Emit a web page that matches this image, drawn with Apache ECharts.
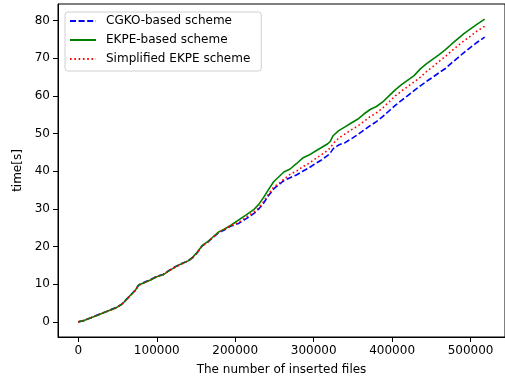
<!DOCTYPE html>
<html>
<head>
<meta charset="utf-8">
<script src="https://cdn.jsdelivr.net/npm/echarts@6/dist/echarts.min.js"></script>
<style>
html,body{margin:0;padding:0;background:#fff;}
#chart{width:505px;height:381px;}
</style>
</head>
<body>
<div id="chart"></div>
<script>
const fileCounts = [0,8000,16000,24000,32000,40000,48000,55000,60000,66000,
  72000,77000,84000,92000,100000,108000,116000,124000,132000,140000,
  146000,152000,158000,165000,172000,179000,186000,194000,204000,214000,
  224000,230000,236000,242000,249000,256000,262000,270000,278000,286000,
  294000,302000,310000,318000,321000,325000,332000,340000,348000,356000,
  364000,372000,380000,388000,396000,404000,412000,420000,428000,436000,
  444000,452000,460000,468000,476000,484000,492000,500000,508000,518000];

const cgkoTimes = [0,0.4,1.1,1.8,2.4,3.1,3.8,4.6,5.7,7.0,
  8.3,9.8,10.5,11.2,12.1,12.6,13.7,14.7,15.5,16.2,
  17.1,18.5,20.2,21.2,22.5,23.7,24.4,25.4,26.1,27.4,
  28.8,30.0,31.5,33.4,35.3,36.5,37.5,38.3,39.0,40.0,
  40.9,42.0,43.0,44.2,44.8,46.0,47.0,47.6,48.6,49.7,
  50.9,52.1,53.2,54.5,56.0,57.5,58.8,60.1,61.4,62.7,
  63.9,65.0,66.2,67.3,68.8,70.2,71.6,72.9,74.2,75.6];

const ekpeTimes = [0,0.4,1.1,1.7,2.4,3.1,3.7,4.6,5.6,7.0,
  8.2,9.8,10.4,11.1,12.0,12.5,13.6,14.6,15.5,16.2,
  17.2,18.6,20.3,21.3,22.6,23.9,24.6,25.6,27.0,28.4,
  29.9,31.2,33.0,35.0,37.2,38.6,39.8,40.6,42.0,43.5,
  44.3,45.3,46.3,47.3,47.9,49.5,50.8,51.8,52.8,53.8,
  55.2,56.4,57.2,58.4,60.0,61.6,63.0,64.2,65.4,67.2,
  68.6,69.8,71.0,72.3,73.8,75.2,76.6,77.8,79.0,80.4];

const simplifiedTimes = [0,0.4,1.1,1.7,2.4,3.0,3.7,4.5,5.6,6.9,
  8.2,9.7,10.4,11.1,12.0,12.5,13.6,14.6,15.4,16.2,
  17.1,18.5,20.2,21.2,22.5,23.8,24.5,25.5,26.4,27.8,
  29.2,30.3,31.9,33.8,35.8,36.8,37.9,39.2,40.0,41.2,
  42.1,43.3,44.4,45.6,46.2,47.4,48.8,49.9,51.0,52.0,
  53.2,54.5,55.5,56.8,58.4,60.0,61.3,62.5,63.7,65.0,
  66.5,67.8,69.2,70.5,72.0,73.4,74.7,75.9,77.2,78.5];

const xTicks = [0,100000,200000,300000,400000,500000];
const yTicks = [0,10,20,30,40,50,60,70,80];
const seriesNames = ['CGKO-based scheme','EKPE-based scheme','Simplified EKPE scheme'];

function pairs(vals){ return fileCounts.map((x,i)=>[x, vals[i]]); }

const font = 'DejaVu Sans';
const chart = echarts.init(document.getElementById('chart'), null, {renderer:'canvas'});
chart.setOption({
  animation:false,
  backgroundColor:'#fff',
  grid:{left:58, top:4, width:450, height:334, containLabel:false, show:true, borderColor:'#000', borderWidth:1, backgroundColor:'transparent'},
  legend:{
    orient:'vertical', left:65, top:12,
    padding:[3,11,6,4], itemGap:7, itemWidth:26, itemHeight:14,
    backgroundColor:'#fff', borderColor:'#d0d0d0', borderWidth:1, borderRadius:3,
    itemStyle:{color:'rgba(0,0,0,0)', borderWidth:0, opacity:0},
    formatter:function(name){ return '{t|' + name + '}'; },
    textStyle:{fontFamily:font, fontSize:12, color:'#000',
      rich:{t:{fontFamily:font, fontSize:12, color:'#000', padding:[0,0,0,5]}}},
    data:seriesNames
  },
  xAxis:{
    type:'value', min:-25900, max:543900,
    name:'The number of inserted files', nameLocation:'middle', nameGap:27,
    nameTextStyle:{fontFamily:font, fontSize:12, color:'#000'},
    axisLine:{show:true, onZero:false, lineStyle:{color:'#000', width:1}},
    axisTick:{show:true, length:5, inside:false, customValues:xTicks, lineStyle:{color:'#000'}},
    axisLabel:{customValues:xTicks, margin:8, fontFamily:font, fontSize:12, color:'#000',
      formatter:function(v){ return String(v); }},
    splitLine:{show:false}
  },
  yAxis:{
    type:'value', min:-4.02, max:84.42,
    name:'time[s]', nameLocation:'middle', nameGap:28, nameRotate:90,
    nameTextStyle:{fontFamily:font, fontSize:12, color:'#000'},
    axisLine:{show:true, onZero:false, lineStyle:{color:'#000', width:1}},
    axisTick:{show:true, length:5, inside:false, customValues:yTicks, lineStyle:{color:'#000'}},
    axisLabel:{customValues:yTicks, margin:8, fontFamily:font, fontSize:12, color:'#000',
      formatter:function(v){ return String(v); }},
    splitLine:{show:false}
  },
  series:[
    {name:seriesNames[0], type:'line', data:pairs(cgkoTimes), symbol:'none', showSymbol:false,
     color:'#0000ff', lineStyle:{color:'#0000ff', width:1.6, type:[6,2.6]}},
    {name:seriesNames[1], type:'line', data:pairs(ekpeTimes), symbol:'none', showSymbol:false,
     color:'#008000', lineStyle:{color:'#008000', width:1.6, type:'solid'}},
    {name:seriesNames[2], type:'line', data:pairs(simplifiedTimes), symbol:'none', showSymbol:false,
     color:'#ff0000', lineStyle:{color:'#ff0000', width:1.6, type:[1.6,2.7]}}
  ]
});
</script>
</body>
</html>
